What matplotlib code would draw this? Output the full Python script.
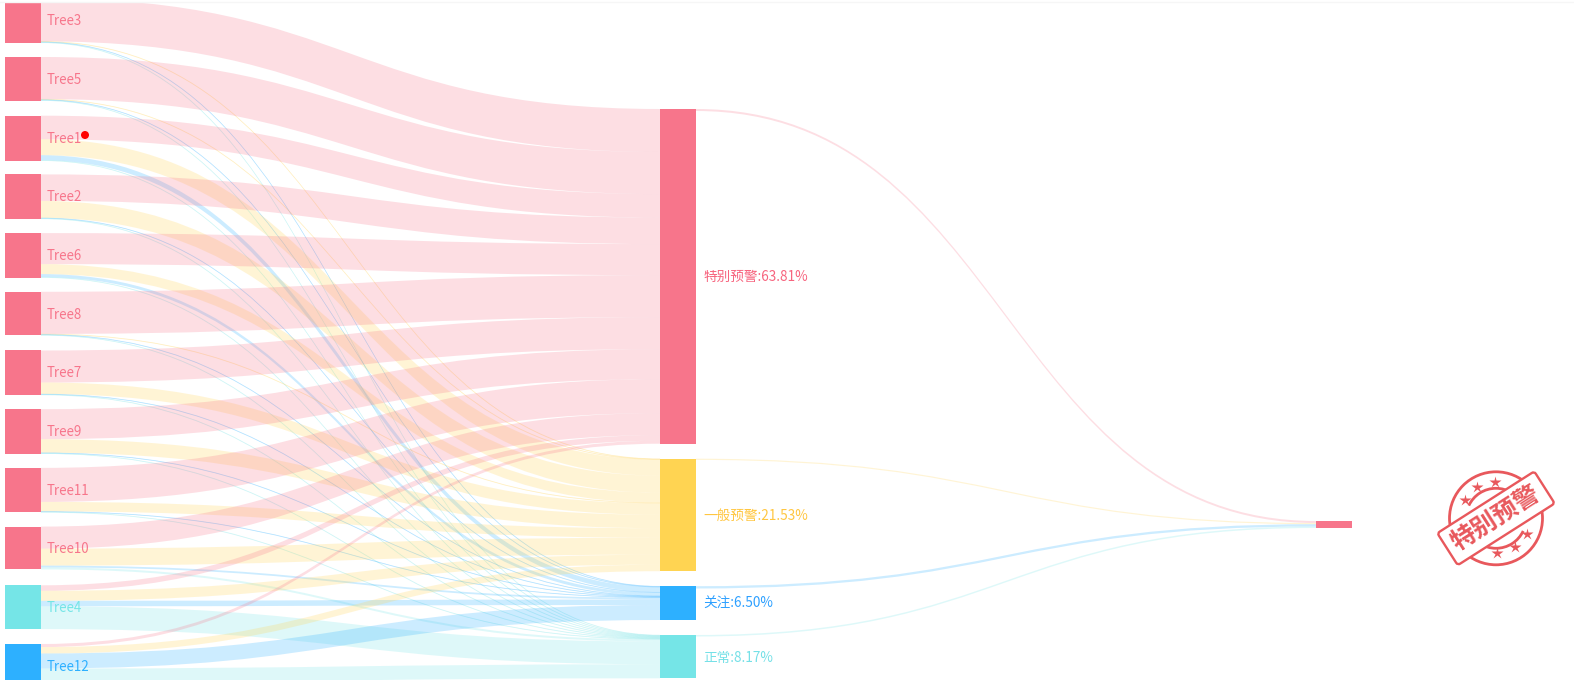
import matplotlib.pyplot as plt
from matplotlib.path import Path
from matplotlib.patches import PathPatch, Rectangle, Circle, Arc, FancyBboxPatch
from matplotlib.transforms import Affine2D

plt.rcParams['font.family'] = ['Noto Sans CJK SC', 'DejaVu Sans']

trees = ['Tree3', 'Tree5', 'Tree1', 'Tree2', 'Tree6', 'Tree8', 'Tree7', 'Tree9', 'Tree11', 'Tree10', 'Tree4', 'Tree12']
levels = ['特别预警', '一般预警', '关注', '正常']
level_pct = ['63.81%', '21.53%', '6.50%', '8.17%']

# flow from each tree to each level, same order as levels
to_special = [43, 42.1, 23.5, 26.5, 31, 42.1, 32, 30, 34, 22, 5.5, 3]
to_general = [0.5, 0.5, 16, 17, 10, 0.5, 11.5, 13.5, 9.5, 17, 10, 6.5]
to_focus = [0.5, 0.5, 5, 0.5, 3, 0.5, 0.5, 0.5, 0.5, 1.8, 5.5, 15]
to_normal = [0.5, 0.5, 0.5, 0.5, 0.5, 0.5, 0.5, 0.5, 0.5, 2, 22.8, 14]
to_final = [2, 1.2, 2.3, 1.5]

PINK = '#F7758B'
YELLOW = '#FFD452'
BLUE = '#2DB0FF'
CYAN = '#75E5E7'
level_colors = [PINK, YELLOW, BLUE, CYAN]
text_colors = ['#F7647E', '#FFC640', '#2DA0FF', '#75E0E7']
tree_colors = [PINK] * 10 + [CYAN, BLUE]
STAMP = '#E8585C'


def ribbon(ax, x0, y0, x1, y1, w, color, alpha=0.24):
    xm = (x0 + x1) / 2
    verts = [(x0, y0), (xm, y0), (xm, y1), (x1, y1),
             (x1, y1 + w), (xm, y1 + w), (xm, y0 + w), (x0, y0 + w), (x0, y0)]
    codes = [Path.MOVETO, Path.CURVE4, Path.CURVE4, Path.CURVE4,
             Path.LINETO, Path.CURVE4, Path.CURVE4, Path.CURVE4, Path.CLOSEPOLY]
    # hairline flows would fade out without an edge
    if w < 1:
        ax.add_patch(PathPatch(Path(verts, codes), fc=color, ec=color, lw=0.3, alpha=alpha, zorder=1))
    else:
        ax.add_patch(PathPatch(Path(verts, codes), fc=color, ec='none', alpha=alpha, zorder=1))


fig = plt.figure(figsize=(15.74, 6.8), dpi=100)
fig.add_artist(plt.Line2D([0, 1], [1 - 1.5 / 680, 1 - 1.5 / 680], color='#f6f6f6', lw=1))
ax = fig.add_axes([0, 0, 1, 677 / 680])
ax.set_xlim(0, 1574)
ax.set_ylim(680, 3)
ax.axis('off')

col_x = [5, 660, 1316]
node_w = 36
flows = [to_special, to_general, to_focus, to_normal]

# node tops for the first two columns
tree_pitch = 58.7
tree_tops = [-1.7 + i * tree_pitch for i in range(len(trees))]

level_tops = []
y = 109
for f in flows:
    level_tops.append(y)
    y += sum(f) + 15

# tree -> level ribbons
level_used = list(level_tops)
for i, name in enumerate(trees):
    y0 = tree_tops[i]
    for j, f in enumerate(flows):
        ribbon(ax, col_x[0] + node_w, y0, col_x[1], level_used[j], f[i], level_colors[j])
        y0 += f[i]
        level_used[j] += f[i]
    ax.add_patch(Rectangle((col_x[0], tree_tops[i]), node_w, y0 - tree_tops[i], fc=tree_colors[i], ec='none', zorder=2))
    ax.text(47, tree_tops[i] + 22.9, name, color=tree_colors[i], fontsize=9.6, va='center', ha='left', zorder=3)

# level -> final ribbons
final_top = 521
y1 = final_top
for j, name in enumerate(levels):
    ribbon(ax, col_x[1] + node_w, level_tops[j], col_x[2], y1, to_final[j], level_colors[j])
    y1 += to_final[j]
    h = sum(flows[j])
    ax.add_patch(Rectangle((col_x[1], level_tops[j]), node_w, h, fc=level_colors[j], ec='none', zorder=2))
    ax.text(703, level_tops[j] + h / 2 + 1, name + ':' + level_pct[j], color=text_colors[j], fontsize=9.8, va='center', ha='left', zorder=3)
ax.add_patch(Rectangle((col_x[2], final_top), node_w, y1 - final_top, fc=PINK, ec='none', zorder=2))

# red dot next to Tree1
ax.add_patch(Circle((85, 135), 4, fc='red', ec='none', zorder=4))

# stamp
cx, cy = 1496, 518.3
ax.add_patch(Circle((cx, cy), 46.5, fc='white', ec=STAMP, lw=2, zorder=5))
for start, end in [(205, 335), (25, 155)]:
    ax.add_patch(Arc((cx, cy), 60, 60, theta1=start, theta2=end, ec=STAMP, lw=2, zorder=5))
for sx, sy in [(-31, -18), (-19, -31), (-1, -36), (1, 35), (19, 29), (31, 16)]:
    ax.plot(cx + sx, cy + sy, marker='*', ms=9, color=STAMP, mec='none', zorder=6)
box = FancyBboxPatch((-57.5, -19), 115, 38, boxstyle='round,pad=0,rounding_size=3', fc='white', ec=STAMP, lw=1.7,
                     transform=Affine2D().rotate_deg(-32.5).translate(cx, cy) + ax.transData, zorder=7)
ax.add_patch(box)
ax.text(cx, cy, '特别预警', color=STAMP, fontsize=18, fontweight='bold', rotation=32.5, rotation_mode='anchor',
        ha='center', va='center', zorder=8)

fig.savefig('out.png', dpi=100)
